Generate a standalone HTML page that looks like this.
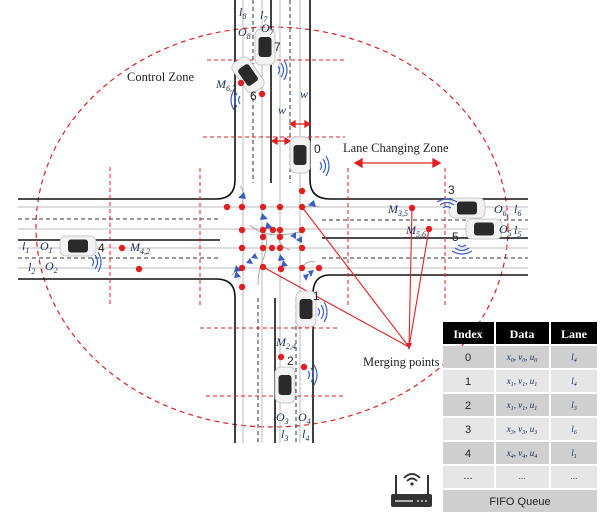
<!DOCTYPE html>
<html><head><meta charset="utf-8"><style>
html,body{margin:0;padding:0;background:#fff;}
svg{display:block;}
text{font-family:"Liberation Serif",serif;}
.it text{font-style:italic;font-family:"Liberation Serif",serif;fill:#1a2a50;}
.sn text{font-family:"Liberation Sans",sans-serif;}
</style></head><body>
<svg width="612" height="518" viewBox="0 0 612 518" xmlns="http://www.w3.org/2000/svg">
<defs>
<g id="carv">
  <rect x="-10" y="-18" width="20" height="36" rx="6" fill="#f2f2f2" stroke="#bbb" stroke-width="0.8"/>
  <rect x="-6.5" y="-10" width="13" height="20" rx="3" fill="#2a2a2a"/>
</g>
<g id="carh">
  <rect x="-18" y="-10" width="36" height="20" rx="6" fill="#f2f2f2" stroke="#bbb" stroke-width="0.8"/>
  <rect x="-10" y="-6.5" width="20" height="13" rx="3" fill="#2a2a2a"/>
</g>
<g id="wav" fill="none" stroke="#3a5ec0" stroke-width="1.2">
  <path d="M0,-4 Q3,0 0,4"/><path d="M3,-7 Q8,0 3,7"/><path d="M6,-10 Q12,0 6,10"/>
</g>
</defs>

<ellipse cx="272" cy="227" rx="236" ry="200" fill="none" stroke="#e02020" stroke-width="1.2" stroke-dasharray="5,4"/>

<g stroke-width="1">
 <line x1="243" y1="0" x2="243" y2="443" stroke="#bbb"/>
 <line x1="262" y1="0" x2="262" y2="443" stroke="#bbb"/>
 <line x1="280" y1="0" x2="280" y2="443" stroke="#bbb"/>
 <line x1="300" y1="0" x2="300" y2="443" stroke="#bbb"/>
 <line x1="18" y1="207" x2="528" y2="207" stroke="#bbb"/>
 <line x1="18" y1="229" x2="528" y2="229" stroke="#bbb"/>
 <line x1="18" y1="248" x2="528" y2="248" stroke="#bbb"/>
 <line x1="18" y1="268" x2="528" y2="268" stroke="#bbb"/>
</g>
<g stroke="#333" stroke-width="1" stroke-dasharray="4,3">
 <line x1="253" y1="0" x2="253" y2="183"/>
 <line x1="290" y1="0" x2="290" y2="183"/>
 <line x1="258" y1="298" x2="258" y2="443"/>
 <line x1="296" y1="298" x2="296" y2="443"/>
 <line x1="18" y1="219" x2="218" y2="219"/>
 <line x1="18" y1="258" x2="218" y2="258"/>
 <line x1="322" y1="220" x2="528" y2="220"/>
 <line x1="322" y1="258" x2="528" y2="258"/>
</g>
<g stroke="#111" stroke-width="1.6" fill="none">
 <line x1="271" y1="0" x2="271" y2="183"/>
 <line x1="275" y1="298" x2="275" y2="443"/>
 <line x1="18" y1="240" x2="220" y2="240"/>
 <line x1="322" y1="238" x2="528" y2="238"/>
 <path d="M235,0 V180 Q235,199 216,199 H18"/>
 <path d="M310,0 V180 Q310,199 330,199 H528"/>
 <path d="M235,443 V297 Q235,279 216,279 H18"/>
 <path d="M313,443 V294 Q313,275 330,275 H528"/>
</g>

<g stroke="#e02020" stroke-width="1" stroke-dasharray="4,3">
 <line x1="207" y1="60" x2="347" y2="60"/>
 <line x1="203" y1="137" x2="345" y2="137"/>
 <line x1="200" y1="328" x2="340" y2="328"/>
 <line x1="206" y1="396" x2="346" y2="396"/>
 <line x1="110" y1="167" x2="110" y2="307"/>
 <line x1="200" y1="168" x2="200" y2="307"/>
 <line x1="348" y1="168" x2="348" y2="307"/>
 <line x1="445" y1="168" x2="445" y2="307"/>
</g>

<g stroke="#aaa" stroke-width="1" fill="none">
 <path d="M242,207 Q245,190 240,186"/>
 <path d="M302,207 Q310,205 320,207"/>
 <path d="M242,268 Q236,270 232,275"/>
 <path d="M302,268 Q306,260 315,262"/>
 <path d="M263,230 Q270,240 263,260 Q258,270 258,285"/>
 <path d="M280,230 Q275,245 290,250"/>
 <path d="M250,225 Q265,240 300,232"/>
</g>

<g stroke="#e02020" stroke-width="1.3" fill="#e02020">
 <line x1="275" y1="141" x2="287" y2="141"/>
 <polygon points="272,141 277,138 277,144"/><polygon points="290,141 285,138 285,144"/>
 <line x1="293" y1="124" x2="307" y2="124"/>
 <polygon points="290,124 295,121 295,127"/><polygon points="310,124 305,121 305,127"/>
 <line x1="358" y1="163" x2="436" y2="163"/>
 <polygon points="355,163 362,159 362,167"/><polygon points="440,163 433,159 433,167"/>
</g>

<g stroke="#e02020" stroke-width="1.1">
 <line x1="302" y1="207" x2="409" y2="347"/>
 <line x1="263" y1="267" x2="409" y2="347"/>
 <line x1="412" y1="208" x2="409" y2="347"/>
 <line x1="429" y1="229" x2="409" y2="347"/>
</g>
<polygon points="409,350 406,343 412,343" fill="#e02020"/>

<use href="#carv" x="300" y="155"/>
<use href="#carv" x="265" y="47"/>
<use href="#carv" transform="translate(248,75) rotate(-35)"/>
<use href="#carv" x="306" y="309"/>
<use href="#carv" x="285" y="385"/>
<use href="#carh" x="78" y="246"/>
<use href="#carh" x="467" y="208"/>
<use href="#carh" x="484" y="229"/>

<use href="#wav" x="320" y="166"/>
<use href="#wav" x="278" y="70"/>
<use href="#wav" transform="translate(240,100) scale(-1,1)"/>
<use href="#wav" x="318" y="312"/>
<use href="#wav" x="308" y="375"/>
<use href="#wav" x="92" y="262"/>
<use href="#wav" transform="translate(447,208) rotate(90) scale(-1,1)"/>
<use href="#wav" transform="translate(462,245) rotate(90)"/>

<g fill="#3a5ec0">
 <polygon points="238,198 244,192 246,199"/>
 <polygon points="308,205 314,200 316,207"/>
 <polygon points="262,213 268,219 260,220"/>
 <polygon points="267,222 273,228 265,229"/>
 <polygon points="290,236 296,232 296,239"/>
 <polygon points="296,240 302,236 302,243"/>
 <polygon points="255,253 258,259 251,258"/>
 <polygon points="250,258 253,264 246,263"/>
 <polygon points="280,254 285,260 278,261"/>
 <polygon points="283,260 288,266 281,267"/>
 <polygon points="236,265 241,271 234,272"/>
 <polygon points="236,271 241,277 234,278"/>
 <polygon points="303,275 309,274 306,281"/>
 <polygon points="308,271 314,270 311,277"/>
</g>

<g fill="#e02020">
 <circle cx="227" cy="207" r="3.2"/><circle cx="242" cy="207" r="3.2"/><circle cx="263" cy="207" r="3.2"/><circle cx="280" cy="207" r="3.2"/><circle cx="302" cy="207" r="3.2"/><circle cx="302" cy="191" r="3.2"/>
 <circle cx="242" cy="230" r="3.2"/><circle cx="263" cy="230" r="3.2"/><circle cx="273" cy="230" r="3.2"/><circle cx="280" cy="230" r="3.2"/><circle cx="302" cy="230" r="3.2"/>
 <circle cx="263" cy="237" r="3.2"/><circle cx="280" cy="237" r="3.2"/>
 <circle cx="242" cy="248" r="3.2"/><circle cx="263" cy="248" r="3.2"/><circle cx="272" cy="248" r="3.2"/><circle cx="280" cy="248" r="3.2"/><circle cx="302" cy="248" r="3.2"/>
 <circle cx="242" cy="268" r="3.2"/><circle cx="263" cy="267" r="3.2"/><circle cx="281" cy="269" r="3.2"/><circle cx="302" cy="268" r="3.2"/><circle cx="319" cy="268" r="3.2"/>
 <circle cx="242" cy="287" r="3.2"/>
 <circle cx="241" cy="83" r="3.2"/><circle cx="262" cy="94" r="3.2"/>
 <circle cx="281" cy="357" r="3.2"/><circle cx="304" cy="367" r="3.2"/>
 <circle cx="122" cy="248" r="3.2"/><circle cx="139" cy="269" r="3.2"/>
 <circle cx="412" cy="208" r="3.2"/><circle cx="429" cy="229" r="3.2"/>
</g>

<text x="127" y="81" font-size="12.5" fill="#222">Control Zone</text>
<text x="343" y="152" font-size="12.5" fill="#222">Lane Changing Zone</text>
<text x="363" y="366" font-size="12.5" fill="#222">Merging points</text>
<g class="sn" font-size="12" fill="#222">
 <text x="274" y="51">7</text><text x="250" y="100">6</text><text x="314" y="153">0</text>
 <text x="98" y="252">4</text><text x="448" y="194">3</text><text x="452" y="241">5</text>
 <text x="313" y="300">1</text><text x="287" y="365">2</text>
</g>
<g class="it" font-size="12">
 <text x="239" y="16">l<tspan font-size="8" dy="3">8</tspan></text>
 <text x="260" y="19">l<tspan font-size="8" dy="3">7</tspan></text>
 <text x="238" y="36">O<tspan font-size="8" dy="3">8</tspan></text>
 <text x="261" y="32">O<tspan font-size="8" dy="3">7</tspan></text>
 <text x="216" y="88">M<tspan font-size="8" dy="3">6,7</tspan></text>
 <text x="300" y="98">w</text>
 <text x="278" y="114">w</text>
 <text x="22" y="250">l<tspan font-size="8" dy="3">1</tspan></text>
 <text x="40" y="250">O<tspan font-size="8" dy="3">1</tspan></text>
 <text x="130" y="251">M<tspan font-size="8" dy="3">4,2</tspan></text>
 <text x="28" y="271">l<tspan font-size="8" dy="3">2</tspan></text>
 <text x="45" y="270">O<tspan font-size="8" dy="3">2</tspan></text>
 <text x="388" y="213">M<tspan font-size="8" dy="3">3,5</tspan></text>
 <text x="406" y="234">M<tspan font-size="8" dy="3">5,6</tspan></text>
 <text x="494" y="213">O<tspan font-size="8" dy="3">6</tspan></text>
 <text x="514" y="213">l<tspan font-size="8" dy="3">6</tspan></text>
 <text x="499" y="233">O<tspan font-size="8" dy="3">5</tspan></text>
 <text x="514" y="234">l<tspan font-size="8" dy="3">5</tspan></text>
 <text x="276" y="346">M<tspan font-size="8" dy="3">2,4</tspan></text>
 <text x="276" y="421">O<tspan font-size="8" dy="3">3</tspan></text>
 <text x="298" y="421">O<tspan font-size="8" dy="3">4</tspan></text>
 <text x="281" y="438">l<tspan font-size="8" dy="3">3</tspan></text>
 <text x="302" y="438">l<tspan font-size="8" dy="3">4</tspan></text>
</g>

<g>
 <rect x="443" y="322" width="51" height="22" fill="#000"/>
 <rect x="496" y="322" width="53" height="22" fill="#000"/>
 <rect x="551" y="322" width="46" height="22" fill="#000"/>
 <g font-weight="bold" font-size="12" fill="#fff" text-anchor="middle">
  <text x="468" y="338">Index</text><text x="522" y="338">Data</text><text x="574" y="338">Lane</text>
 </g>
 <g fill="#cfcfcf">
  <rect x="443" y="346" width="51" height="22"/><rect x="496" y="346" width="53" height="22"/><rect x="551" y="346" width="46" height="22"/>
  <rect x="443" y="394" width="51" height="22"/><rect x="496" y="394" width="53" height="22"/><rect x="551" y="394" width="46" height="22"/>
  <rect x="443" y="442" width="51" height="22"/><rect x="496" y="442" width="53" height="22"/><rect x="551" y="442" width="46" height="22"/>
  <rect x="443" y="490" width="154" height="22"/>
 </g>
 <g fill="#e6e6e6">
  <rect x="443" y="370" width="51" height="22"/><rect x="496" y="370" width="53" height="22"/><rect x="551" y="370" width="46" height="22"/>
  <rect x="443" y="418" width="51" height="22"/><rect x="496" y="418" width="53" height="22"/><rect x="551" y="418" width="46" height="22"/>
  <rect x="443" y="466" width="51" height="22"/><rect x="496" y="466" width="53" height="22"/><rect x="551" y="466" width="46" height="22"/>
 </g>
 <g class="sn" font-size="11" fill="#222" text-anchor="middle">
  <text x="468" y="361">0</text><text x="468" y="385">1</text><text x="468" y="409">2</text><text x="468" y="433">3</text><text x="468" y="457">4</text><text x="468" y="479">...</text>
  <text x="522" y="479" font-size="8">...</text><text x="574" y="479" font-size="8">...</text>
  <text x="520" y="505" font-size="11">FIFO Queue</text>
 </g>
 <g class="it" font-size="9" text-anchor="middle">
  <text x="522" y="360">x<tspan font-size="6" dy="2">0</tspan><tspan dy="-2">, v</tspan><tspan font-size="6" dy="2">0</tspan><tspan dy="-2">, u</tspan><tspan font-size="6" dy="2">0</tspan></text>
  <text x="522" y="384">x<tspan font-size="6" dy="2">1</tspan><tspan dy="-2">, v</tspan><tspan font-size="6" dy="2">1</tspan><tspan dy="-2">, u</tspan><tspan font-size="6" dy="2">1</tspan></text>
  <text x="522" y="408">x<tspan font-size="6" dy="2">1</tspan><tspan dy="-2">, v</tspan><tspan font-size="6" dy="2">1</tspan><tspan dy="-2">, u</tspan><tspan font-size="6" dy="2">1</tspan></text>
  <text x="522" y="432">x<tspan font-size="6" dy="2">3</tspan><tspan dy="-2">, v</tspan><tspan font-size="6" dy="2">3</tspan><tspan dy="-2">, u</tspan><tspan font-size="6" dy="2">3</tspan></text>
  <text x="522" y="456">x<tspan font-size="6" dy="2">4</tspan><tspan dy="-2">, v</tspan><tspan font-size="6" dy="2">4</tspan><tspan dy="-2">, u</tspan><tspan font-size="6" dy="2">4</tspan></text>
  <text x="574" y="360">l<tspan font-size="6" dy="2">4</tspan></text>
  <text x="574" y="384">l<tspan font-size="6" dy="2">4</tspan></text>
  <text x="574" y="408">l<tspan font-size="6" dy="2">3</tspan></text>
  <text x="574" y="432">l<tspan font-size="6" dy="2">6</tspan></text>
  <text x="574" y="456">l<tspan font-size="6" dy="2">1</tspan></text>
 </g>
</g>

<g>
 <rect x="391" y="494" width="41" height="13" rx="2" fill="#333"/>
 <line x1="396" y1="494" x2="396" y2="475" stroke="#333" stroke-width="2"/>
 <line x1="428" y1="494" x2="428" y2="475" stroke="#333" stroke-width="2"/>
 <line x1="395" y1="501" x2="413" y2="501" stroke="#fff" stroke-width="1.2"/>
 <circle cx="418" cy="501" r="0.9" fill="#fff"/><circle cx="422" cy="501" r="0.9" fill="#fff"/><circle cx="426" cy="501" r="0.9" fill="#fff"/>
 <g fill="none" stroke="#333" stroke-width="1.8">
  <path d="M404,478 Q412,470 420,478"/><path d="M407,481 Q412,476 417,481"/>
 </g>
 <circle cx="412" cy="484" r="1.6" fill="#333"/>
</g>
</svg>
</body></html>
